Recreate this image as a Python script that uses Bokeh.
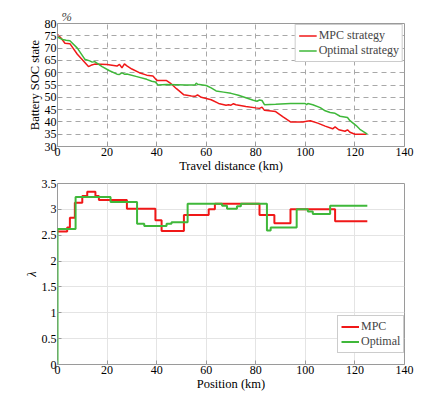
from bokeh.plotting import figure
from bokeh.layouts import column
from bokeh.models import FixedTicker, PrintfTickFormatter, Range1d
from bokeh.embed import file_html
from bokeh.resources import INLINE

# ---- Top: SOC vs travel distance ----
mpc_km = [0, 1.5, 3, 5, 8, 12.5, 13.5, 15, 20, 24, 25, 26, 27, 28, 30, 33, 36, 38.5, 39.5, 40.3,
          44, 45.5, 48, 51, 54, 55.5, 56.5, 58, 62, 65, 68, 69, 70, 71, 72, 76, 80, 81.5, 82.5,
          83.5, 88, 91, 94, 99, 100.5, 102, 105, 108, 111, 112, 113.5, 116, 117, 118, 120, 124.5]
mpc_soc = [75.5, 74, 72, 71.8, 67.5, 62.5, 63, 63.5, 63.3, 62.7, 63.4, 62, 63.6, 62.8, 61.5, 60,
           59, 58.7, 57.5, 56.8, 56.8, 55.8, 53.5, 51, 50.5, 50.4, 51, 50, 49, 47.5, 46.8, 47,
           46.8, 47.4, 47, 46.3, 45.7, 45.5, 46, 44.7, 44.2, 42, 40, 40, 40.3, 40.5, 39.5, 38.3,
           37.2, 38, 36.8, 36.2, 36.8, 35.8, 35, 35]
opt_km = [0, 2, 3.5, 5, 8, 11, 13, 14, 15, 18, 21, 24, 25, 26, 27, 28, 32, 36, 38, 39.5, 40.5,
          44, 48, 52, 55.5, 56, 56.5, 60, 62, 64, 67, 70, 73, 76, 79, 80.5, 81.5, 82.5, 83.5,
          88, 94, 100, 100.5, 101, 103, 106, 108, 110, 112, 114, 117, 118, 120.5, 122, 125]
opt_soc = [74.5, 73.5, 73.2, 73, 70, 65.5, 64.8, 64.3, 64.5, 62.5, 60.8, 59.4, 59.3, 59.9, 59.4,
           59.5, 58.4, 57.3, 56.5, 56.2, 55, 55.2, 55.1, 55, 55, 55.8, 55.3, 54.8, 53.8, 52.6,
           52.1, 51.6, 50.8, 49.8, 48.8, 48.4, 48.9, 48.7, 47, 47.2, 47.5, 47.5, 47, 47.5, 47,
           45.8, 44.5, 43.8, 43.5, 42.3, 41.8, 40.5, 38.5, 37, 35]

# ---- Bottom: lambda vs position (piecewise constant) ----
mpc_pos = [0, 3.9, 5, 7, 10, 12, 15.3, 16.7, 28, 39.5, 42, 51, 61, 63.5, 81.5, 87.5, 94, 112, 125]
mpc_lam = [2.57, 2.65, 2.84, 3.13, 3.26, 3.34, 3.26, 3.18, 3.01, 2.79, 2.58, 2.89, 3.0, 3.11,
           2.89, 2.73, 3.0, 2.77]
opt_pos = [0, 0, 7.3, 21.4, 32.1, 35, 44, 46, 52.5, 66.4, 68.4, 72.4, 74, 84.5, 86, 96.5, 101,
           103, 110, 125]
opt_lam = [0, 2.62, 3.24, 3.14, 2.72, 2.68, 2.72, 2.75, 3.11, 3.07, 3.01, 3.06, 3.11, 2.59,
           2.65, 3.0, 2.96, 2.91, 3.07]

x_ticks = [0, 20, 40, 60, 80, 100, 120, 140]
soc_ticks = [30, 35, 40, 45, 50, 55, 60, 65, 70, 75, 80]
lam_ticks = [0, 0.5, 1, 1.5, 2, 2.5, 3, 3.5]

RED = "#f01818"
GREEN = "#3fb83a"
FONT = "'Liberation Serif', 'Times New Roman', serif"


def style(p, dashed):
    p.outline_line_color = "#9a9a9a"
    for ax in (p.xaxis, p.yaxis):
        ax.axis_line_color = None
        ax.major_tick_line_color = "#9a9a9a"
        ax.major_tick_in = 4
        ax.major_tick_out = 0
        ax.minor_tick_line_color = None
        ax.major_label_text_font = FONT
        ax.major_label_text_font_size = "12px"
        ax.major_label_text_color = "black"
        ax.axis_label_text_font = FONT
        ax.axis_label_text_font_size = "12.5px"
        ax.axis_label_text_font_style = "normal"
        ax.axis_label_text_color = "black"
        ax.major_label_standoff = 1
        ax.axis_label_standoff = 0
    for g in (p.xgrid, p.ygrid):
        if dashed:
            g.grid_line_color = "#a8a8a8"
            g.grid_line_dash = "5 4"
        else:
            g.grid_line_color = "#e4e4e4"
        g.grid_line_width = 1
    p.xaxis.ticker = FixedTicker(ticks=x_ticks)


p1 = figure(width=423, height=175, output_backend="svg", toolbar_location=None,
            x_range=Range1d(0, 140), y_range=Range1d(30, 80),
            min_border_left=57, min_border_right=19, min_border_top=23, min_border_bottom=27)
p1.title.text = "%"
p1.title.align = "left"
p1.title.offset = 4
p1.title.standoff = 0
p1.title.text_font = FONT
p1.title.text_font_size = "12.5px"
p1.title.text_font_style = "italic"
style(p1, True)
p1.yaxis.ticker = FixedTicker(ticks=soc_ticks)
p1.xaxis.axis_label = "Travel distance (km)"
p1.yaxis.axis_label = "Battery SOC state"
p1.line(mpc_km, mpc_soc, color=RED, line_width=1.5, legend_label="MPC strategy")
p1.line(opt_km, opt_soc, color=GREEN, line_width=1.5, legend_label="Optimal strategy")

p2 = figure(width=423, height=218, output_backend="svg", toolbar_location=None,
            x_range=Range1d(0, 140), y_range=Range1d(0, 3.5),
            min_border_left=57, min_border_right=19, min_border_top=8, min_border_bottom=25)
style(p2, False)
p2.yaxis.ticker = FixedTicker(ticks=lam_ticks)
p2.yaxis.formatter = PrintfTickFormatter(format="%g")
p2.xaxis.axis_label = "Position (km)"
p2.yaxis.axis_label = "λ"
p2.yaxis.axis_label_text_font_style = "italic"
p2.step(mpc_pos, mpc_lam + [mpc_lam[-1]], mode="after", color=RED, line_width=2,
        legend_label="MPC")
p2.step(opt_pos, opt_lam + [opt_lam[-1]], mode="after", color=GREEN, line_width=2,
        legend_label="Optimal")

for p, loc in ((p1, "top_right"), (p2, (280, 11))):
    lg = p.legend[0]
    lg.location = loc
    lg.margin = 1
    lg.padding = 3
    lg.spacing = 0
    lg.label_text_font = FONT
    lg.label_text_font_size = "12px"
    lg.label_height = 13
    lg.glyph_height = 13
    lg.glyph_width = 18
    lg.label_standoff = 2
    lg.border_line_color = "#9a9a9a"
    lg.background_fill_alpha = 1

layout = column(p1, p2, spacing=0)
open("out.html", "w").write(file_html(layout, INLINE))
